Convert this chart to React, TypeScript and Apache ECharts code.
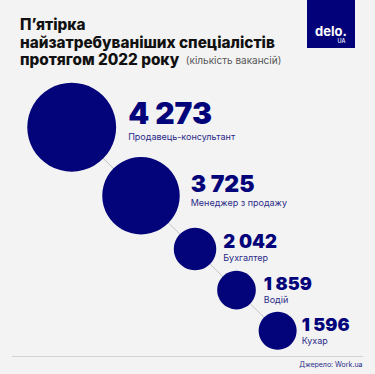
import React, { useEffect, useRef } from "react";
import * as echarts from "echarts";

const professions = ["Продавець-консультант", "Менеджер з продажу", "Бухгалтер", "Водій", "Кухар"];
const vacancies = [4273, 3725, 2042, 1859, 1596];
const titleLines = ["П’ятірка", "найзатребуваніших спеціалістів", "протягом 2022 року"];
const titleNote = "(кількість вакансій)";
const sourceText = "Джерело: Work.ua";

const NAVY = "#03037a";
const numFont = [30, 23, 18.5, 18, 18];
const labelDist = [12, 11, 7, 8, 5];
const labelOffY = [-8.6, -6.5, -2.4, -1.4, -0.6];

const diameter = (v: number) => Math.max(38, v * 0.0208);
const fmt = (v: number) => String(v).replace(/\B(?=(\d{3})+(?!\d))/g, " ");

function layout() {
  const ang = (44.67 * Math.PI) / 180;
  const pts: number[][] = [];
  let x = 71.7;
  let y = 127.2;
  vacancies.forEach((v, i) => {
    if (i > 0) {
      const d = diameter(vacancies[i - 1]) / 2 + diameter(v) / 2 + 12.5 + 1.75 * i;
      x += d * Math.cos(ang);
      y += d * Math.sin(ang);
    }
    pts.push([x, y, v]);
  });
  return pts;
}

export default function App() {
  const ref = useRef<HTMLDivElement>(null);
  useEffect(() => {
    if (!ref.current) return;
    const chart = echarts.init(ref.current, null, { renderer: "svg" });
    const pts = layout();
    const font = "Inter, 'Noto Sans', sans-serif";
    chart.setOption({
      animation: false,
      backgroundColor: "#f3f3f3",
      grid: { left: 0, top: 0, right: 0, bottom: 0 },
      xAxis: { type: "value", min: 0, max: 375, show: false },
      yAxis: { type: "value", min: 0, max: 374, inverse: true, show: false },
      series: [
        {
          type: "line",
          data: pts.map((p) => [p[0], p[1]]),
          symbol: "none",
          lineStyle: { color: "#c4c4c4", width: 1 },
          z: 1,
          silent: true,
        },
        {
          type: "scatter",
          z: 2,
          symbolSize: (val: number[]) => diameter(val[2]),
          itemStyle: { color: NAVY, opacity: 1 },
          data: pts.map((p, i) => ({
            value: p,
            label: {
              show: true,
              position: "right",
              distance: labelDist[i],
              offset: [0, labelOffY[i]],
              formatter: `{v|${fmt(vacancies[i])}}\n{n|${professions[i]}}`,
              rich: {
                v: {
                  fontFamily: font,
                  fontWeight: 900,
                  fontSize: numFont[i],
                  lineHeight: numFont[i] * 1.2,
                  color: NAVY,
                },
                n: {
                  fontFamily: font,
                  fontWeight: 400,
                  fontSize: 9,
                  lineHeight: 10.8,
                  color: "#2a2a88",
                },
              },
            },
          })),
        },
      ],
      graphic: [
        ...titleLines.slice(0, 2).map((t, i) => ({
          type: "text",
          style: {
            text: t,
            x: 20,
            y: 24.5 + i * 17.5,
            fontFamily: font,
            fontWeight: 800,
            fontSize: 15.3,
            fill: "#111111",
            verticalAlign: "middle",
          },
        })),
        {
          type: "text",
          style: {
            x: 20,
            y: 24.5 + 2 * 17.5,
            text: `{b|${titleLines[2]}}  {s|${titleNote}}`,
            verticalAlign: "middle",
            rich: {
              b: { fontFamily: font, fontWeight: 800, fontSize: 15.3, fill: "#111111" },
              s: { fontFamily: font, fontWeight: 400, fontSize: 10, fill: "#555555" },
            },
          },
        },
        { type: "rect", shape: { x: 307, y: 0, width: 48, height: 48 }, style: { fill: "#02017a" } },
        {
          type: "text",
          style: { x: 331, y: 31, text: "delo.", align: "center", verticalAlign: "middle", fontFamily: font, fontWeight: 700, fontSize: 13, fill: "#ffffff" },
        },
        {
          type: "text",
          style: { x: 341.5, y: 41, text: "UA", align: "center", verticalAlign: "middle", fontFamily: font, fontWeight: 500, fontSize: 5.5, fill: "#ffffff" },
        },
        { type: "line", shape: { x1: 12, y1: 356.5, x2: 363, y2: 356.5 }, style: { stroke: "#d2d2d2", lineWidth: 1 } },
        {
          type: "text",
          style: { x: 362.5, y: 364, text: sourceText, align: "right", verticalAlign: "middle", fontFamily: font, fontWeight: 400, fontSize: 7, fill: "#2a2a88" },
        },
      ],
    });
    return () => chart.dispose();
  }, []);
  return <div ref={ref} style={{ position: "fixed", left: 0, top: 0, width: 375, height: 374 }} />;
}
